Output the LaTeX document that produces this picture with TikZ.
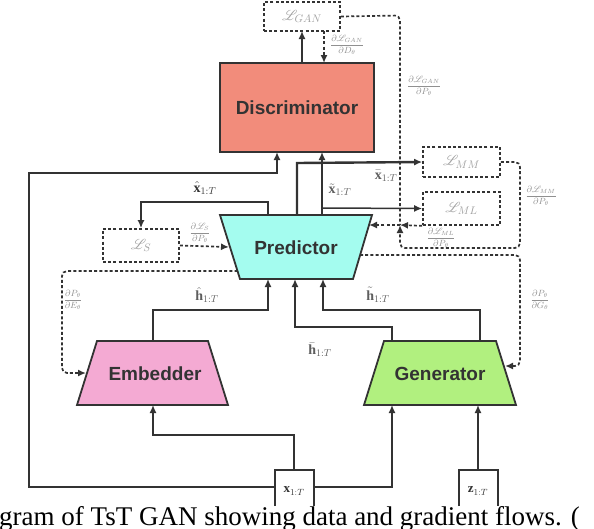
\documentclass[tikz,border=0pt]{standalone}
\usepackage{fontspec}
\usepackage{amsmath}
\usepackage{mathrsfs}
\setmainfont{Liberation Serif}
\newfontfamily\blockfont{Liberation Sans}
\usetikzlibrary{arrows.meta,backgrounds}
\definecolor{discc}{HTML}{F28C7B}
\definecolor{predc}{HTML}{A4FCEF}
\definecolor{embc}{HTML}{F4AAD3}
\definecolor{genc}{HTML}{B1F07F}
\definecolor{linec}{HTML}{333333}
\definecolor{labc}{HTML}{5E5E5E}
\definecolor{gradlab}{HTML}{909090}
\definecolor{lossc}{HTML}{A0A0A0}
\begin{document}
\begin{tikzpicture}[x=1pt,y=-1pt,
  flow/.style={draw=linec,line width=1.5pt},
  thickflow/.style={draw=linec,line width=2.4pt},
  arr/.style={-{Latex[length=8pt,width=7pt]}},
  grad/.style={draw=linec,line width=1.7pt,dash pattern=on 3pt off 2.2pt,rounded corners=5pt},
  lossbox/.style={draw=linec,line width=1.7pt,dash pattern=on 3pt off 2.2pt,inner sep=0pt,text=lossc,font=\fontsize{15}{17}\selectfont},
  blockbox/.style={inner sep=0pt},
  blocktext/.style={inner sep=0pt,text=linec,font=\blockfont\bfseries\fontsize{19}{21}\selectfont},
  block/.style={draw=linec,line width=1.8pt},
  flowlab/.style={inner sep=0pt,text=labc,font=\fontsize{14}{16}\selectfont},
  gradlabel/.style={inner sep=0pt,text=gradlab,font=\fontsize{9}{11}\selectfont},
  inbox/.style={draw=linec,line width=1.5pt}
]
\useasboundingbox (0,0) rectangle (594,528);
\clip (0,0) rectangle (594,528);

% ---------- blocks ----------
\node[blockbox,draw=linec,line width=1.8pt,fill=discc,minimum width=154pt,minimum height=89pt] (disc) at (297,107.5) {};
\node[blocktext] (disclabel) at (disc.center) {Discriminator};

\node[blockbox,minimum width=152pt,minimum height=64pt] (pred) at (296,247) {};
\node[blockbox,minimum width=151pt,minimum height=64pt] (emb) at (152.5,373) {};
\node[blockbox,minimum width=152pt,minimum height=64pt] (gen) at (440,373) {};
\draw[block,fill=predc] (220,215) -- (372,215) -- (353,279) -- (240,279) -- cycle;
\draw[block,fill=embc] (97,341) -- (208,341) -- (228,405) -- (77,405) -- cycle;
\draw[block,fill=genc] (384,341) -- (496,341) -- (516,405) -- (364,405) -- cycle;
\node[blocktext] (predlabel) at (296,248) {Predictor};
\node[blocktext] (emblabel) at (155,374) {Embedder};
\node[blocktext] (genlabel) at (440,374) {Generator};

% ---------- loss boxes ----------
\node[lossbox,minimum width=76pt,minimum height=29pt] (lgan) at (302,16.5) {$\mathscr{L}_{GAN}$};
\node[lossbox,minimum width=77pt,minimum height=30pt] (lmm) at (461.5,162) {$\mathscr{L}_{MM}$};
\node[lossbox,minimum width=77pt,minimum height=33pt] (lml) at (461.5,208.5) {$\mathscr{L}_{ML}$};
\node[lossbox,minimum width=76pt,minimum height=33pt] (ls) at (141,245.5) {$\mathscr{L}_{S}$};

% ---------- inputs ----------
\draw[inbox] (275,506) -- (275,470) -- (314,470) -- (314,506);
\draw[inbox] (459,506) -- (459,470) -- (498,470) -- (498,506);
\node[inner sep=0pt,minimum width=40pt,minimum height=30pt] (xin) at (294,485) {};
\node[inner sep=0pt,minimum width=40pt,minimum height=30pt] (zin) at (478,485) {};
\node[flowlab,text=linec,font=\fontsize{13}{15}\selectfont] (xinlabel) at (294,491) {$\mathbf{x}_{1:T}$};
\node[flowlab,text=linec,font=\fontsize{13}{15}\selectfont] (zinlabel) at (478,491) {$\mathbf{z}_{1:T}$};

% ---------- attachment points ----------
\coordinate (pt1) at (268,215);
\coordinate (pt2) at (297,215);
\coordinate (pt3) at (322,215);
\coordinate (pb1) at (268,279);
\coordinate (pb2) at (295,279);
\coordinate (pb3) at (323,279);
\coordinate (pl1) at (229,247);
\coordinate (pl2) at (237.5,271);
\coordinate (pr1) at (369,225);
\coordinate (pr2) at (360,255);
\coordinate (et) at (153,341);
\coordinate (eb) at (153,405);
\coordinate (el) at (86,373);
\coordinate (gt1) at (392,341);
\coordinate (gt2) at (480,341);
\coordinate (gb1) at (392,405);
\coordinate (gb2) at (478,405);
\coordinate (gr) at (505,366);
\coordinate (dt1) at (302,63);
\coordinate (dt2) at (324,63);
\coordinate (db1) at (277,152);
\coordinate (db2) at (322,152);
\coordinate (lgb1) at (302,31);
\coordinate (lgb2) at (324,31);
\coordinate (junc) at (400,225);
\coordinate (xtop) at (294,470);
\coordinate (xl) at (275,487);
\coordinate (xr) at (314,487);
\coordinate (ztop) at (478,470);

% ---------- data flows ----------
\draw[flow,arr] (dt1) -- (lgb1);
\draw[thickflow,arr] (xl) -- (29,487) -- (29,173) -- (277,173) -- (db1);
\draw[flow,arr] (xr) -- (392,487) -- (gb1);
\draw[flow,arr] (xtop) -- (294,435) -- (153,435) -- (eb);
\draw[flow,arr] (ztop) -- (gb2);
\draw[flow,arr] (et) -- (153,310) -- (268,310) -- (pb1);
\draw[thickflow,arr] (gt1) -- (392,327) -- (295,327) -- (pb2);
\draw[flow,arr] (gt2) -- (480,310) -- (323,310) -- (pb3);
\draw[flow,arr] (pt1) -- (268,202) -- (141,202) -- (ls.north);
\draw[thickflow,arr] (pt2) -- (297,163) -- (lmm.west);
\draw[flow,arr] (pt3) -- (db2);
\draw[flow,arr] (322,208) -- (lml.west);

\node[flowlab] (lhhat) at (207,295) {$\hat{\mathbf{h}}_{1:T}$};
\node[flowlab] (lhbar) at (320,350) {$\bar{\mathbf{h}}_{1:T}$};
\node[flowlab] (lhtil) at (378,295) {$\tilde{\mathbf{h}}_{1:T}$};
\node[flowlab,text=linec] (lxhat) at (205,188) {$\hat{\mathbf{x}}_{1:T}$};
\node[flowlab] (lxbar) at (386,176) {$\bar{\mathbf{x}}_{1:T}$};
\node[flowlab] (lxtil) at (340,190) {$\tilde{\mathbf{x}}_{1:T}$};

% ---------- gradient flows ----------
\draw[grad,arr] (lgb2) -- (dt2);
\draw[grad] (lgan.east) -- (400,15.5) -- (junc);
\draw[grad,arr] (lml.south west) -- (junc);
\draw[grad,arr] (lmm.east) -- (520,162) -- (520,248) -- (400,248) -- (junc);
\draw[grad,arr] (junc) -- (pr1);
\draw[grad,arr] (pr2) -- (520,255) -- (520,366) -- (gr);
\draw[grad,arr] (pl2) -- (62,271) -- (62,373) -- (el);
\draw[grad,arr] (ls.east) -- (pl1);

\node[gradlabel] (gDgan) at (347,45) {$\dfrac{\partial\mathscr{L}_{GAN}}{\partial D_\theta}$};
\node[gradlabel] (gPgan) at (424,86) {$\dfrac{\partial\mathscr{L}_{GAN}}{\partial P_\theta}$};
\node[gradlabel] (gPmm) at (541,196) {$\dfrac{\partial\mathscr{L}_{MM}}{\partial P_\theta}$};
\node[gradlabel] (gPml) at (441,238) {$\dfrac{\partial\mathscr{L}_{ML}}{\partial P_\theta}$};
\node[gradlabel] (gPs) at (200,233) {$\dfrac{\partial\mathscr{L}_{S}}{\partial P_\theta}$};
\node[gradlabel] (gPE) at (73,300) {$\dfrac{\partial P_\theta}{\partial E_\theta}$};
\node[gradlabel] (gPG) at (540,300) {$\dfrac{\partial P_\theta}{\partial G_\theta}$};

% ---------- caption ----------
\node[anchor=base west,inner sep=0pt,font=\fontsize{27}{30}\selectfont] (caption) at (-1,525) {gram of TsT GAN showing data and gradient flows. (};
\end{tikzpicture}
\end{document}
